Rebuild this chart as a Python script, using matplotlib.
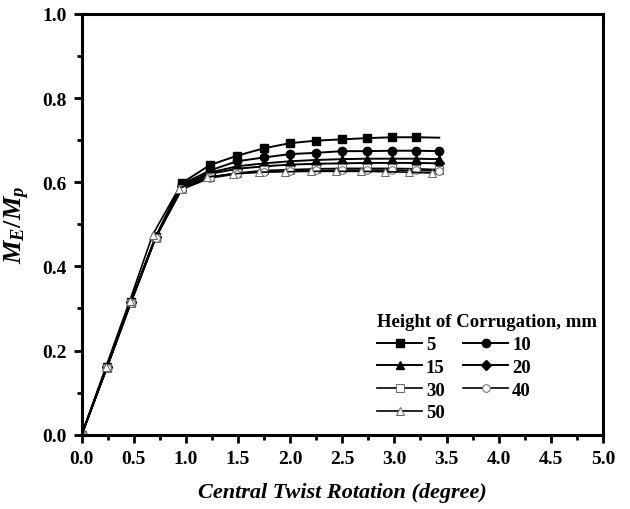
import numpy as np
import matplotlib
matplotlib.use('Agg')
import matplotlib.pyplot as plt
from matplotlib.ticker import MultipleLocator

plt.rcParams['font.family'] = 'Liberation Serif'
plt.rcParams['font.weight'] = 'bold'
plt.rcParams['mathtext.fontset'] = 'custom'
plt.rcParams['mathtext.it'] = 'Liberation Serif:italic:bold'
plt.rcParams['mathtext.rm'] = 'Liberation Serif:bold'

# central twist rotation (degree) at the marker points
rotation = [0, 0.24, 0.47, 0.71, 0.96, 1.23, 1.49, 1.75, 2.0, 2.25, 2.5, 2.74, 2.98, 3.21, 3.43]
rotation_50 = [0, 0.23, 0.46, 0.68, 0.93, 1.2, 1.45, 1.7, 1.95, 2.2, 2.44, 2.68, 2.91, 3.14, 3.36]

heights = ['5', '10', '15', '20', '30', '40', '50']
m5 = [0, 0.16, 0.315, 0.47, 0.598, 0.641, 0.663, 0.681, 0.693, 0.699, 0.702, 0.705, 0.707, 0.707, 0.706]
m10 = [0, 0.16, 0.315, 0.47, 0.595, 0.628, 0.650, 0.659, 0.667, 0.670, 0.674, 0.674, 0.675, 0.675, 0.674]
m15 = [0, 0.16, 0.315, 0.47, 0.592, 0.623, 0.638, 0.645, 0.650, 0.653, 0.655, 0.656, 0.656, 0.656, 0.655]
m20 = [0, 0.16, 0.315, 0.47, 0.590, 0.620, 0.632, 0.638, 0.642, 0.644, 0.645, 0.646, 0.646, 0.646, 0.645]
m30 = [0, 0.158, 0.313, 0.468, 0.585, 0.612, 0.622, 0.628, 0.630, 0.632, 0.633, 0.633, 0.633, 0.632, 0.630]
m40 = [0, 0.158, 0.312, 0.468, 0.583, 0.610, 0.620, 0.625, 0.627, 0.628, 0.629, 0.629, 0.629, 0.628, 0.627]
m50 = [0, 0.16, 0.318, 0.475, 0.585, 0.612, 0.620, 0.624, 0.625, 0.626, 0.626, 0.626, 0.625, 0.624, 0.622]

series = [m5, m10, m15, m20, m30, m40, m50]
markers = ['s', 'o', '^', 'D', 's', 'o', '^']
filled = [True, True, True, True, False, False, False]

fig = plt.figure(figsize=(6.3, 5.1), dpi=100)
ax = fig.add_axes([0.1297, 0.1457, 0.8273, 0.8249])

lines = []
for i, (h, y) in enumerate(zip(heights, series)):
    x = rotation_50 if h == '50' else rotation
    every = list(range(len(x) - 1)) if h == '5' else None
    ms = 6 if markers[i] != 'D' else 5
    if filled[i]:
        ln, = ax.plot(x, y, color='black', lw=1.4, marker=markers[i], ms=ms,
                      mfc='black', mec='black', markevery=every, label=h)
    else:
        ln, = ax.plot(x, y, color='black', lw=1.2, marker=markers[i], ms=5.5,
                      mfc='white', mec='#666666', mew=0.7, label=h)
    lines.append(ln)

ax.set_xlim(0, 5)
ax.set_ylim(0, 1.0)
ax.xaxis.set_major_locator(MultipleLocator(0.5))
ax.xaxis.set_minor_locator(MultipleLocator(0.25))
ax.yaxis.set_major_locator(MultipleLocator(0.2))
ax.yaxis.set_minor_locator(MultipleLocator(0.1))

for s in ax.spines.values():
    s.set_linewidth(2.2)
ax.tick_params(which='major', direction='out', length=6, width=2, labelsize=14, pad=5)
ax.tick_params(which='minor', direction='out', length=3.5, width=2)
ax.tick_params(top=False, right=False, which='both')

ax.set_xlabel('Central Twist Rotation (degree)', fontsize=16, fontstyle='italic',
              fontweight='bold', labelpad=11)
ax.set_ylabel(r'$M_E/M_p$', fontsize=19, labelpad=7)

# legend reads row by row: 5, 10 / 15, 20 / 30, 40 / 50
order = [0, 2, 4, 6, 1, 3, 5]
leg = ax.legend([lines[k] for k in order], [heights[k] for k in order],
                ncol=2, loc='lower left', bbox_to_anchor=(0.545, 0.005), frameon=False,
                title='Height of Corrugation, mm', fontsize=13.5,
                title_fontproperties={'weight': 'bold', 'size': 13.5},
                handlelength=2.4, columnspacing=1.0, labelspacing=0.3,
                handletextpad=0.2, alignment='left', borderaxespad=0.2)

fig.savefig('out.png', dpi=100)
